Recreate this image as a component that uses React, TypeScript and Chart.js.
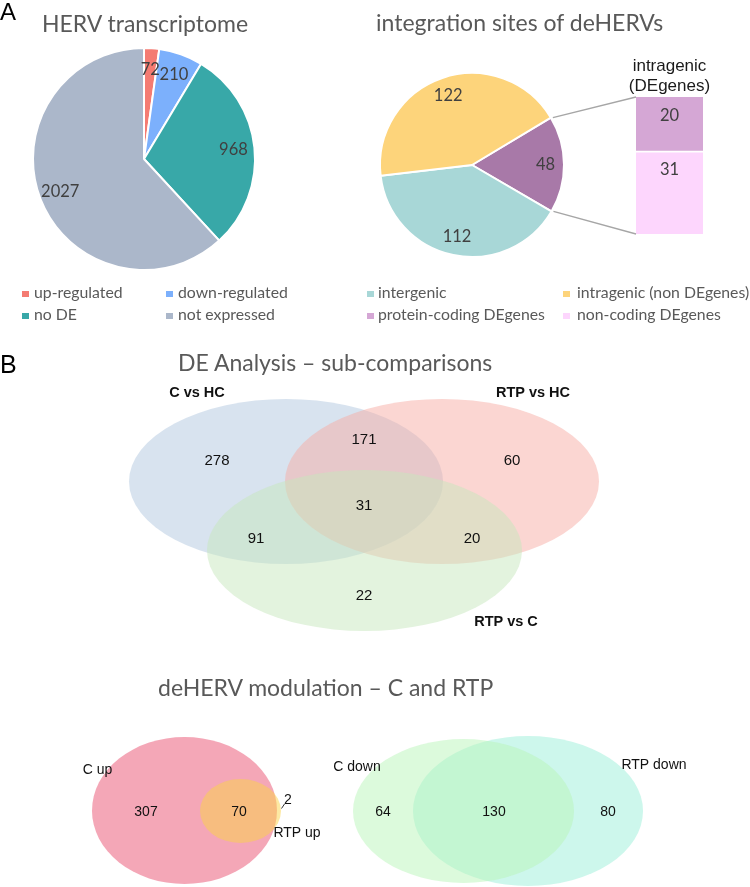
import React, { useEffect, useRef } from 'react';
import { Chart, registerables } from 'chart.js';

Chart.register(...registerables);

// ---------------- data ----------------
const transcriptomeLabels = ['up-regulated', 'down-regulated', 'no DE', 'not expressed'];
const transcriptomeValues = [72, 210, 968, 2027];
const transcriptomeColors = ['#f47b72', '#7cb0fc', '#38a8a8', '#abb7ca'];

const siteLabels = ['intragenic (DEgenes)', 'intergenic', 'intragenic (non DEgenes)'];
const siteValues = [48, 112, 122];
const siteColors = ['#a879a8', '#a8d7d7', '#fdd47b'];

const deGeneLabels = ['non-coding DEgenes', 'protein-coding DEgenes'];
const deGeneValues = [31, 20];
const deGeneColors = ['#fdd6fd', '#d5a7d5'];
const deGeneTitle = ['intragenic', '(DEgenes)'];

const siteLegendLabels = ['intergenic', 'intragenic (non DEgenes)', 'protein-coding DEgenes', 'non-coding DEgenes'];
const siteLegendColors = ['#a8d7d7', '#fdd47b', '#d5a7d5', '#fdd6fd'];

const subSets = ['C vs HC', 'RTP vs HC', 'RTP vs C'];
const subSetColors = ['rgba(177,199,223,0.5)', 'rgba(247,173,165,0.5)', 'rgba(199,231,189,0.5)'];
const subCounts = [278, 171, 60, 31, 91, 20, 22];

const upSets = ['C up', 'RTP up'];
const upSetColors = ['rgba(233,79,111,0.5)', 'rgba(251,211,71,0.5)'];
const upCounts = [307, 70, 2];

const downSets = ['C down', 'RTP down'];
const downSetColors = ['rgba(185,245,185,0.5)', 'rgba(155,239,217,0.5)'];
const downCounts = [64, 130, 80];

// ---------------- layout (positions only) ----------------
const PIE1 = { left: 24, top: 39, size: 240, radius: 111 };
const PIE2 = { left: 372, top: 65, size: 200, radius: 92, rotation: 59 };
const BAR = { left: 600, top: 40, width: 140, height: 200, pad: { left: 36, right: 37, top: 57, bottom: 6 } };
const VENN = { top: 380, height: 507, width: 750 };

const subEllipses = [
  { x: 286, y: 481.5, rx: 157, ry: 82.5 },
  { x: 442, y: 481.5, rx: 157, ry: 82.5 },
  { x: 364.5, y: 550.5, rx: 157.5, ry: 80.5 },
];
const subSetLabelPos = [{ x: 197, y: 393 }, { x: 533, y: 393 }, { x: 506, y: 622 }];
const subCountPos = [
  { x: 217, y: 461 }, { x: 364, y: 440 }, { x: 512, y: 461 }, { x: 364, y: 506 },
  { x: 256, y: 539 }, { x: 472, y: 539 }, { x: 364, y: 596 },
];

const upEllipses = [
  { x: 184.5, y: 810.5, rx: 92.5, ry: 73.5 },
  { x: 240.5, y: 811, rx: 40.5, ry: 32 },
];
const upSetLabelPos = [{ x: 97.5, y: 770 }, { x: 297, y: 833 }];
const upCountPos = [{ x: 146, y: 812 }, { x: 239, y: 812 }, { x: 288, y: 800 }];
const upLeader = [{ x: 281.5, y: 808.5 }, { x: 284.5, y: 804 }];

const downEllipses = [
  { x: 463.5, y: 811, rx: 110.5, ry: 72 },
  { x: 528, y: 811, rx: 115, ry: 75 },
];
const downDrawOrder = [1, 0];
const downSetLabelPos = [{ x: 357, y: 767 }, { x: 654, y: 765 }];
const downCountPos = [{ x: 383, y: 812 }, { x: 494, y: 812 }, { x: 608, y: 812 }];

// ---------------- styles ----------------
const LATO = 'Lato, "Open Sans", sans-serif';
const ARIAL = '"Liberation Sans", Arial, Helvetica, sans-serif';
const GREY_TXT = '#595959';
const LABEL_TXT = '#404040';

// ---------------- plugins ----------------
const arcLabelPlugin = {
  id: 'arcLabels',
  afterDatasetsDraw(chart: any, _a: any, opts: any) {
    const ctx = chart.ctx;
    const ds = chart.data.datasets[0];
    const meta = chart.getDatasetMeta(0);
    ctx.save();
    ctx.font = opts.font;
    ctx.fillStyle = opts.color;
    ctx.textAlign = 'center';
    ctx.textBaseline = 'middle';
    meta.data.forEach((arc: any, i: number) => {
      const p = arc.getProps(['x', 'y', 'startAngle', 'endAngle', 'outerRadius'], true);
      const mid = (p.startAngle + p.endAngle) / 2;
      const r = p.outerRadius * opts.radial;
      ctx.fillText(String(ds.data[i]), p.x + Math.cos(mid) * r, p.y + Math.sin(mid) * r);
    });
    ctx.restore();
  },
};

const segLabelPlugin = {
  id: 'segLabels',
  afterDatasetsDraw(chart: any, _a: any, opts: any) {
    const ctx = chart.ctx;
    ctx.save();
    ctx.font = opts.font;
    ctx.fillStyle = opts.color;
    ctx.textAlign = 'center';
    ctx.textBaseline = 'middle';
    chart.data.datasets.forEach((ds: any, i: number) => {
      const el = chart.getDatasetMeta(i).data[0];
      const p = el.getProps(['x', 'y', 'base'], true);
      ctx.fillText(String(ds.data[0]), p.x, Math.min(p.y, p.base) + opts.offset);
    });
    ctx.restore();
  },
};

const stackTitlePlugin = {
  id: 'stackTitle',
  afterDraw(chart: any, _a: any, opts: any) {
    const { ctx, chartArea } = chart;
    ctx.save();
    ctx.font = opts.font;
    ctx.fillStyle = opts.color;
    ctx.textAlign = 'center';
    ctx.textBaseline = 'alphabetic';
    const cx = (chartArea.left + chartArea.right) / 2;
    const n = opts.lines.length;
    opts.lines.forEach((line: string, i: number) => {
      ctx.fillText(line, cx, chartArea.top - opts.gap - (n - 1 - i) * opts.lineHeight);
    });
    ctx.restore();
  },
};

const vennPlugin = {
  id: 'vennShapes',
  beforeDatasetsDraw(chart: any) {
    const ctx = chart.ctx;
    const xs = chart.scales.x;
    const ys = chart.scales.y;
    chart.data.datasets.forEach((ds: any, i: number) => {
      if (ds.shape !== 'ellipse') return;
      const meta = chart.getDatasetMeta(i);
      meta.data.forEach((pt: any, j: number) => {
        const e = ds.data[j];
        const rx = Math.abs(xs.getPixelForValue(e.x + e.rx) - pt.x);
        const ry = Math.abs(ys.getPixelForValue(e.y + e.ry) - pt.y);
        ctx.save();
        ctx.beginPath();
        ctx.ellipse(pt.x, pt.y, rx, ry, 0, 0, Math.PI * 2);
        ctx.fillStyle = ds.shapeColor;
        ctx.fill();
        ctx.restore();
      });
    });
  },
  afterDatasetsDraw(chart: any) {
    const ctx = chart.ctx;
    chart.data.datasets.forEach((ds: any, i: number) => {
      if (!ds.texts) return;
      const meta = chart.getDatasetMeta(i);
      ctx.save();
      ctx.font = ds.textFont;
      ctx.fillStyle = ds.textColor;
      ctx.textAlign = 'center';
      ctx.textBaseline = 'middle';
      meta.data.forEach((pt: any, j: number) => ctx.fillText(ds.texts[j], pt.x, pt.y));
      ctx.restore();
    });
  },
};

// ---------------- helpers ----------------
const ellipseSet = (label: string, e: any, color: string) => ({
  label,
  data: [e],
  shape: 'ellipse',
  shapeColor: color,
  pointRadius: 0,
  pointHoverRadius: 0,
});
const textSet = (label: string, pos: any[], texts: string[], font: string, color = '#111') => ({
  label,
  data: pos,
  texts,
  textFont: font,
  textColor: color,
  pointRadius: 0,
  pointHoverRadius: 0,
});

const METRIC: Record<string, number> = { lato: 0.887, arial: 0.8465 };

function T(props: any) {
  const { x, base, size, fam = 'lato', color = GREY_TXT, children, bold } = props;
  return (
    <div
      style={{
        position: 'absolute',
        left: x,
        top: base - size * METRIC[fam],
        fontFamily: fam === 'lato' ? LATO : ARIAL,
        fontSize: size,
        lineHeight: `${size}px`,
        color,
        whiteSpace: 'nowrap',
        fontWeight: bold ? 700 : 400,
        zIndex: 6,
      }}
    >
      {children}
    </div>
  );
}

function LegendItem({ sx, tx, base, color, text }: any) {
  return (
    <>
      <div style={{ position: 'absolute', left: sx, top: base - 7.5, width: 6.5, height: 6.5, background: color }} />
      <T x={tx} base={base} size={15.8}>{text}</T>
    </>
  );
}

export default function App() {
  const pie1Ref = useRef<HTMLCanvasElement>(null);
  const pie2Ref = useRef<HTMLCanvasElement>(null);
  const barRef = useRef<HTMLCanvasElement>(null);
  const vennRef = useRef<HTMLCanvasElement>(null);
  const overlayRef = useRef<HTMLCanvasElement>(null);

  useEffect(() => {
    const common = {
      responsive: false,
      animation: false as const,
      devicePixelRatio: 1,
      events: [] as any[],
    };

    const pie1 = new Chart(pie1Ref.current!, {
      type: 'pie',
      data: {
        labels: transcriptomeLabels,
        datasets: [{ data: transcriptomeValues, backgroundColor: transcriptomeColors, borderColor: '#ffffff', borderWidth: 2 }],
      },
      options: {
        ...common,
        radius: PIE1.radius,
        layout: { padding: 0 },
        plugins: {
          legend: { display: false },
          tooltip: { enabled: false },
          arcLabels: { font: `16.5px ${LATO}`, color: LABEL_TXT, radial: 0.81 },
        },
      } as any,
      plugins: [arcLabelPlugin],
    });

    const pie2 = new Chart(pie2Ref.current!, {
      type: 'pie',
      data: {
        labels: siteLabels,
        datasets: [{ data: siteValues, backgroundColor: siteColors, borderColor: '#ffffff', borderWidth: 2 }],
      },
      options: {
        ...common,
        radius: PIE2.radius,
        rotation: PIE2.rotation,
        layout: { padding: 0 },
        plugins: {
          legend: { display: false },
          tooltip: { enabled: false },
          arcLabels: { font: `16.5px ${LATO}`, color: LABEL_TXT, radial: 0.8 },
        },
      } as any,
      plugins: [arcLabelPlugin],
    });

    const bar = new Chart(barRef.current!, {
      type: 'bar',
      data: {
        labels: [''],
        datasets: [
          {
            label: deGeneLabels[0],
            data: [deGeneValues[0]],
            backgroundColor: deGeneColors[0],
            borderColor: '#ffffff',
            borderWidth: { top: 2, left: 0, right: 0, bottom: 0 },
            borderSkipped: false,
            barPercentage: 1,
            categoryPercentage: 1,
          },
          {
            label: deGeneLabels[1],
            data: [deGeneValues[1]],
            backgroundColor: deGeneColors[1],
            borderWidth: 0,
            barPercentage: 1,
            categoryPercentage: 1,
          },
        ],
      },
      options: {
        ...common,
        layout: { padding: BAR.pad },
        scales: {
          x: { stacked: true, display: false },
          y: { stacked: true, display: false, min: 0, max: deGeneValues[0] + deGeneValues[1] },
        },
        plugins: {
          legend: { display: false },
          tooltip: { enabled: false },
          segLabels: { font: `16.5px ${LATO}`, color: LABEL_TXT, offset: 19 },
          stackTitle: { lines: deGeneTitle, font: `17px ${ARIAL}`, color: '#1a1a1a', gap: 6, lineHeight: 20 },
        },
      } as any,
      plugins: [segLabelPlugin, stackTitlePlugin],
    });

    const vennDatasets: any[] = [];
    subSets.forEach((s, i) => vennDatasets.push(ellipseSet(s, subEllipses[i], subSetColors[i])));
    upSets.forEach((s, i) => vennDatasets.push(ellipseSet(s, upEllipses[i], upSetColors[i])));
    downDrawOrder.forEach((i) => vennDatasets.push(ellipseSet(downSets[i], downEllipses[i], downSetColors[i])));
    vennDatasets.push(textSet('sub set names', subSetLabelPos, subSets, `bold 14.5px ${ARIAL}`));
    vennDatasets.push(textSet('sub counts', subCountPos, subCounts.map(String), `15px ${ARIAL}`));
    vennDatasets.push(textSet('up set names', upSetLabelPos, upSets, `14px ${ARIAL}`));
    vennDatasets.push(textSet('up counts', upCountPos, upCounts.map(String), `14px ${ARIAL}`));
    vennDatasets.push(textSet('down set names', downSetLabelPos, downSets, `14px ${ARIAL}`));
    vennDatasets.push(textSet('down counts', downCountPos, downCounts.map(String), `14px ${ARIAL}`));
    vennDatasets.push({
      label: 'leader',
      data: upLeader,
      showLine: true,
      borderColor: '#333333',
      borderWidth: 1,
      pointRadius: 0,
      pointHoverRadius: 0,
    });

    const venn = new Chart(vennRef.current!, {
      type: 'scatter',
      data: { datasets: vennDatasets },
      options: {
        ...common,
        layout: { padding: 0 },
        scales: {
          x: { type: 'linear', min: 0, max: VENN.width, display: false },
          y: { type: 'linear', min: VENN.top, max: VENN.top + VENN.height, reverse: true, display: false },
        },
        plugins: { legend: { display: false }, tooltip: { enabled: false } },
      } as any,
      plugins: [vennPlugin],
    });

    // connector lines between the DEgenes slice and the stacked bar
    const ov = overlayRef.current!;
    const octx = ov.getContext('2d')!;
    octx.clearRect(0, 0, ov.width, ov.height);
    const arc: any = pie2.getDatasetMeta(0).data[0];
    const a = arc.getProps(['x', 'y', 'startAngle', 'endAngle', 'outerRadius'], true);
    const p1 = { x: PIE2.left + a.x + a.outerRadius * Math.cos(a.startAngle), y: PIE2.top + a.y + a.outerRadius * Math.sin(a.startAngle) };
    const p2 = { x: PIE2.left + a.x + a.outerRadius * Math.cos(a.endAngle), y: PIE2.top + a.y + a.outerRadius * Math.sin(a.endAngle) };
    const topEl: any = bar.getDatasetMeta(1).data[0];
    const botEl: any = bar.getDatasetMeta(0).data[0];
    const tb = topEl.getProps(['x', 'y', 'base', 'width'], true);
    const bb = botEl.getProps(['x', 'y', 'base', 'width'], true);
    const q1 = { x: BAR.left + tb.x - tb.width / 2, y: BAR.top + Math.min(tb.y, tb.base) };
    const q2 = { x: BAR.left + bb.x - bb.width / 2, y: BAR.top + Math.max(bb.y, bb.base) };
    octx.save();
    octx.strokeStyle = '#a6a6a6';
    octx.lineWidth = 1.3;
    octx.beginPath();
    octx.moveTo(p1.x + 2, p1.y);
    octx.lineTo(q1.x, q1.y);
    octx.moveTo(p2.x + 2, p2.y);
    octx.lineTo(q2.x, q2.y);
    octx.stroke();
    octx.restore();

    return () => {
      pie1.destroy();
      pie2.destroy();
      bar.destroy();
      venn.destroy();
    };
  }, []);

  const abs = (l: number, t: number, z = 1): any => ({ position: 'absolute', left: l, top: t, display: 'block', zIndex: z });

  return (
    <div style={{ position: 'absolute', left: 0, top: 0, width: 750, height: 887, background: '#ffffff', overflow: 'hidden' }}>
      <canvas ref={pie1Ref} width={PIE1.size} height={PIE1.size} style={abs(PIE1.left, PIE1.top)} />
      <canvas ref={pie2Ref} width={PIE2.size} height={PIE2.size} style={abs(PIE2.left, PIE2.top)} />
      <canvas ref={barRef} width={BAR.width} height={BAR.height} style={abs(BAR.left, BAR.top)} />
      <canvas ref={vennRef} width={VENN.width} height={VENN.height} style={abs(0, VENN.top)} />
      <canvas ref={overlayRef} width={750} height={887} style={{ ...abs(0, 0, 5), pointerEvents: 'none' }} />

      <T x={0} base={20} size={24} fam="arial" color="#000">A</T>
      <T x={42} base={32} size={23}>HERV transcriptome</T>
      <T x={376} base={31} size={23}>integration sites of deHERVs</T>

      <LegendItem sx={22} tx={34} base={298} color={transcriptomeColors[0]} text={transcriptomeLabels[0]} />
      <LegendItem sx={166} tx={178} base={298} color={transcriptomeColors[1]} text={transcriptomeLabels[1]} />
      <LegendItem sx={22} tx={34} base={320} color={transcriptomeColors[2]} text={transcriptomeLabels[2]} />
      <LegendItem sx={166} tx={178} base={320} color={transcriptomeColors[3]} text={transcriptomeLabels[3]} />

      <LegendItem sx={367} tx={378} base={298} color={siteLegendColors[0]} text={siteLegendLabels[0]} />
      <LegendItem sx={563} tx={577} base={298} color={siteLegendColors[1]} text={siteLegendLabels[1]} />
      <LegendItem sx={367} tx={378} base={320} color={siteLegendColors[2]} text={siteLegendLabels[2]} />
      <LegendItem sx={563} tx={577} base={320} color={siteLegendColors[3]} text={siteLegendLabels[3]} />

      <T x={0} base={373} size={25} fam="arial" color="#000">B</T>
      <T x={178} base={371} size={23}>DE Analysis – sub-comparisons</T>
      <T x={158} base={696} size={23}>deHERV modulation – C and RTP</T>
    </div>
  );
}
